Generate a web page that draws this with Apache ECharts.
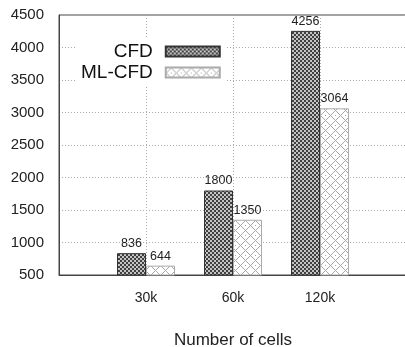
<!DOCTYPE html>
<html>
<head>
<meta charset="utf-8">
<script src="https://cdn.jsdelivr.net/npm/echarts@6/dist/echarts.min.js"></script>
<style>
  html, body { margin: 0; padding: 0; background: #fff; }
  #chart { width: 405px; height: 347px; }
</style>
</head>
<body>
<div id="chart"></div>
<script>
// data
var categories = ['', '30k', '60k', '120k', ''];
var cfdValues = ['-', 836, 1800, 4256, '-'];
var mlcfdValues = ['-', 644, 1350, 3064, '-'];
var seriesNames = ['CFD', 'ML-CFD'];

// hatch fills, drawn on small canvases
function checkerPattern() {
    var c = document.createElement('canvas');
    c.width = 4; c.height = 4;
    var ctx = c.getContext('2d');
    ctx.fillStyle = '#c4c4c4';
    ctx.fillRect(0, 0, 4, 4);
    ctx.fillStyle = '#404040';
    ctx.fillRect(0, 0, 2, 2);
    ctx.fillRect(2, 2, 2, 2);
    return c;
}
function diamondPattern() {
    var c = document.createElement('canvas');
    c.width = 10; c.height = 10;
    var ctx = c.getContext('2d');
    ctx.fillStyle = '#ffffff';
    ctx.fillRect(0, 0, 10, 10);
    ctx.fillStyle = '#a8a8a8';
    for (var i = 0; i < 10; i++) {
        for (var j = 0; j < 10; j++) {
            var d = Math.abs(i - 5) + Math.abs(j - 5);
            if ((d == 5 || d == 2) && (i + j) % 2 == 1) ctx.fillRect(i, j, 1, 1);
            if (d == 0) ctx.fillRect(i, j, 1, 1);
        }
    }
    return c;
}

var chart = echarts.init(document.getElementById('chart'));
var font = 'Liberation Sans';

var option = {
    animation: false,
    textStyle: { fontFamily: font },
    grid: {
        left: 59, width: 348, top: 15, bottom: 72,
        outerBoundsMode: 'none',
        show: true,
        borderColor: '#444',
        borderWidth: 1
    },
    legend: {
        orient: 'vertical',
        align: 'right',
        left: 76,
        top: 38,
        icon: 'rect',
        itemWidth: 54,
        itemHeight: 10,
        itemGap: 2,
        backgroundColor: '#fff',
        padding: [4, 5],
        data: seriesNames,
        textStyle: {
            fontFamily: font,
            fontSize: 19,
            lineHeight: 19,
            color: '#111',
            padding: [0, 8, 0, 0]
        }
    },
    xAxis: {
        type: 'category',
        data: categories,
        boundaryGap: false,
        name: 'Number of cells',
        nameLocation: 'middle',
        nameGap: 57,
        nameTextStyle: { fontSize: 17, color: '#222', fontFamily: font },
        axisLine: { lineStyle: { color: '#444' } },
        axisTick: { show: false },
        axisLabel: { fontSize: 14, color: '#222', margin: 16, fontFamily: font },
        splitLine: { show: true, lineStyle: { color: '#aaa', type: [1, 2] } }
    },
    yAxis: {
        type: 'value',
        min: 500,
        max: 4500,
        interval: 500,
        axisLine: { show: true, lineStyle: { color: '#444' } },
        axisTick: { show: false },
        axisLabel: {
            fontSize: 15, color: '#222', margin: 15, fontFamily: font,
            formatter: function (v) { return String(v); }
        },
        splitLine: { show: true, lineStyle: { color: '#aaa', type: [1, 2] } }
    },
    series: [
        {
            name: seriesNames[0],
            type: 'bar',
            data: cfdValues,
            barWidth: 29,
            barGap: '0%',
            itemStyle: {
                color: { image: checkerPattern(), repeat: 'repeat' },
                borderColor: '#333',
                borderWidth: 1
            },
            label: { show: true, position: 'top', distance: 3, fontSize: 12.5, color: '#222', fontFamily: font }
        },
        {
            name: seriesNames[1],
            type: 'bar',
            data: mlcfdValues,
            barWidth: 29,
            barGap: '0%',
            itemStyle: {
                color: { image: diamondPattern(), repeat: 'repeat' },
                borderColor: '#aaa',
                borderWidth: 1
            },
            label: { show: true, position: 'top', distance: 3, fontSize: 12.5, color: '#222', fontFamily: font }
        }
    ]
};
chart.setOption(option);
</script>
</body>
</html>
